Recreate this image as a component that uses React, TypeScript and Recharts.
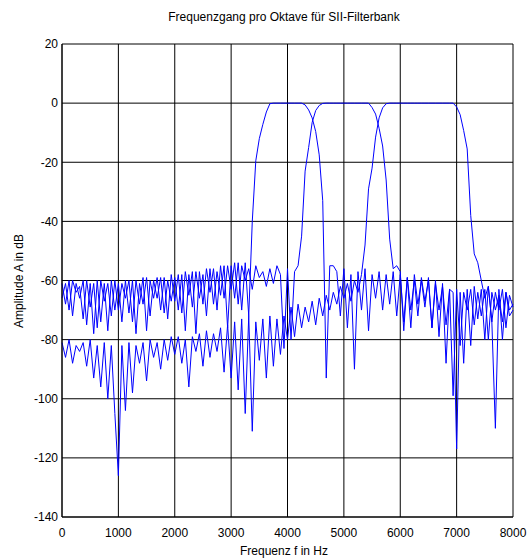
import { LineChart, Line, XAxis, YAxis, CartesianGrid } from 'recharts';

// frequency grid spacing of the read-off samples (Hz)
const STEP_HZ = 62.5;

const xTicks = [0, 1000, 2000, 3000, 4000, 5000, 6000, 7000, 8000];
const yTicks = [-140, -120, -100, -80, -60, -40, -20, 0, 20];

// band 1 (pass ~3.7-4.3 kHz), dB
const filterA = [
  -61, -68, -60, -72, -61, -66, -60, -75, -61, -78, -60, -74, -61, -77, -60, -70,
  -61, -74, -60, -71, -60, -78, -61, -68, -59, -72, -60, -66, -59, -71, -60, -67,
  -59, -70, -58, -77, -58, -69, -57, -66, -58, -72, -56, -68, -57, -65, -55, -76,
  -55, -66, -54, -70, -54, -72, -40, -19.5, -12, -7.2, -3, -0.2, 0, 0, 0, 0,
  0, 0, 0, 0, 0, -0.6, -2.3, -5, -9.6, -17.5, -33, -93, -55, -55, -57, -72,
  -56, -76, -58, -90, -57, -70, -56, -77, -58, -66, -57, -70, -58, -68, -57, -72,
  -58, -74, -59, -70, -60, -72, -59, -67, -60, -76, -61, -70, -62, -75, -63, -99,
  -63, -82, -64, -70, -63, -75, -64, -72, -63, -80, -64, -70, -65, -74, -64, -70,
  -68,
];

// band 2 (pass ~4.6-5.4 kHz), dB
const filterB = [
  -66, -61, -70, -60, -64, -62, -73, -60, -69, -61, -76, -60, -67, -61, -72, -60,
  -70, -61, -66, -60, -74, -60, -68, -59, -77, -60, -66, -59, -70, -59, -73, -58,
  -67, -58, -71, -57, -65, -57, -78, -57, -68, -56, -64, -56, -70, -55, -66, -55,
  -63, -54, -68, -55, -60, -56, -63, -55, -59, -57, -62, -56, -61, -55, -58, -83,
  -56, -80, -57, -55, -45, -23, -15, -6.5, -2.5, -0.8, -0.1, 0, 0, 0, 0, 0,
  0, 0, 0, 0, 0, 0, 0, 0, -1.5, -3.7, -8.5, -14.5, -26, -46, -56, -55,
  -57, -77, -59, -76, -58, -68, -60, -69, -59, -76, -60, -79, -61, -88, -63, -64,
  -117, -64, -88, -63, -82, -62, -73, -63, -80, -62, -74, -110, -63, -80, -64, -72,
  -70,
];

// band 3 (pass ~5.8-6.9 kHz), dB
const filterC = [
  -81, -86, -80, -88, -82, -84, -81, -89, -80, -93, -82, -96, -81, -100, -82, -105,
  -126, -82, -104, -81, -98, -82, -88, -81, -94, -80, -86, -81, -90, -80, -87, -79,
  -85, -79, -88, -80, -96, -79, -84, -78, -89, -77, -86, -78, -84, -76, -91, -75,
  -93, -74, -97, -73, -105, -72, -111, -74, -87, -73, -93, -72, -89, -73, -85, -72,
  -80, -69, -79, -68, -76, -69, -74, -67, -75, -66, -72, -65, -70, -64, -68, -62,
  -66, -61, -67, -60, -64, -58, -48, -29, -22, -11.5, -5, -1.6, -0.2, 0, 0, 0,
  0, 0, 0, 0, 0, 0, 0, 0, 0, 0, 0, 0, 0, 0, 0, 0,
  -1.3, -3.9, -9.3, -15.5, -38, -51, -54, -60, -66, -62, -74, -64, -70, -63, -76, -65,
  -69,
];

const data = filterA.map((a, i) => ({
  f: i * STEP_HZ,
  a,
  b: filterB[i],
  c: filterC[i],
}));

const font = 'Arial, "Liberation Sans", sans-serif';
const blue = '#0000ff';

export default function App() {
  return (
    <div style={{ position: 'absolute', left: 0, top: 0, width: 529, height: 559, fontFamily: font, color: '#000' }}>
      <div style={{ position: 'absolute', left: 284, top: 10, transform: 'translateX(-50%)', fontSize: 12, whiteSpace: 'nowrap' }}>
        Frequenzgang pro Oktave für SII-Filterbank
      </div>
      <div style={{ position: 'absolute', left: 284, top: 544, transform: 'translateX(-50%)', fontSize: 12, whiteSpace: 'nowrap' }}>
        Frequenz f in Hz
      </div>
      <div
        style={{
          position: 'absolute',
          left: 19,
          top: 281,
          transform: 'translate(-50%, -50%) rotate(-90deg)',
          fontSize: 12,
          whiteSpace: 'nowrap',
        }}
      >
        Amplitude A in dB
      </div>

      <LineChart width={529} height={559} data={data} margin={{ top: 44, right: 16, bottom: 0, left: 0 }}>
        <CartesianGrid stroke="#000" strokeWidth={1} />
        <XAxis
          type="number"
          dataKey="f"
          domain={[0, 8000]}
          ticks={xTicks}
          height={42}
          tickSize={0}
          tickMargin={11}
          axisLine={{ stroke: '#000' }}
          tick={{ fill: '#000', fontSize: 12, fontFamily: font }}
          interval={0}
        />
        <YAxis
          type="number"
          domain={[-140, 20]}
          ticks={yTicks}
          width={62}
          tickSize={0}
          tickMargin={4}
          axisLine={{ stroke: '#000' }}
          tick={{ fill: '#000', fontSize: 12, fontFamily: font }}
          interval={0}
          allowDataOverflow
        />
        <Line type="linear" dataKey="a" stroke={blue} strokeWidth={1} dot={false} isAnimationActive={false} />
        <Line type="linear" dataKey="b" stroke={blue} strokeWidth={1} dot={false} isAnimationActive={false} />
        <Line type="linear" dataKey="c" stroke={blue} strokeWidth={1} dot={false} isAnimationActive={false} />
      </LineChart>
    </div>
  );
}
